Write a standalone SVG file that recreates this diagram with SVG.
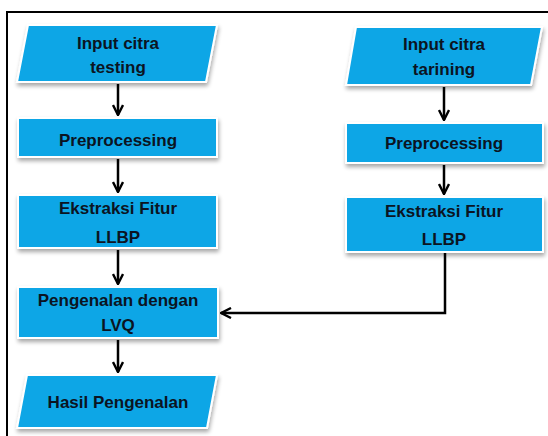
<svg xmlns="http://www.w3.org/2000/svg" width="548" height="436" viewBox="0 0 548 436">
<defs>
<filter id="sh" x="-10%" y="-20%" width="125%" height="150%">
<feGaussianBlur in="SourceAlpha" stdDeviation="2"/>
<feOffset dx="1" dy="3" result="b"/>
<feComponentTransfer><feFuncA type="linear" slope="0.35"/></feComponentTransfer>
<feMerge><feMergeNode/><feMergeNode in="SourceGraphic"/></feMerge>
</filter>
<marker id="ah" viewBox="0 0 12 12" refX="11" refY="6" markerWidth="12" markerHeight="12" markerUnits="userSpaceOnUse" orient="auto">
<path d="M1,1 L11,6 L1,11" fill="none" stroke="#000" stroke-width="2.4" stroke-linejoin="miter"/>
</marker>
</defs>
<style>
.n{fill:#10a6e6;stroke:#ffffff;stroke-width:2;filter:url(#sh)}
.t{font-family:"Liberation Sans",Arial,sans-serif;font-weight:bold;font-size:17px;fill:#0b1422;text-anchor:middle}
.c{fill:none;stroke:#000;stroke-width:2.5}
</style>
<rect width="548" height="436" fill="#ffffff"/>
<path d="M7,436 L7,12 L548,12" fill="none" stroke="#000" stroke-width="2"/>
<g id="input-testing">
<polygon class="n" points="28,25 217,25 206,82 17,82"/>
<text class="t" x="118" y="49">Input citra</text>
<text class="t" x="118" y="73">testing</text>
</g>
<g id="pre-left">
<rect class="n" x="18" y="118" width="199" height="39"/>
<text class="t" x="118" y="146">Preprocessing</text>
</g>
<g id="ekstraksi-left">
<rect class="n" x="18" y="195" width="199" height="53"/>
<text class="t" x="118" y="214">Ekstraksi Fitur</text>
<text class="t" x="118" y="243">LLBP</text>
</g>
<g id="pengenalan">
<rect class="n" x="18" y="287" width="200" height="51"/>
<text class="t" x="118" y="306">Pengenalan dengan</text>
<text class="t" x="118" y="331">LVQ</text>
</g>
<g id="hasil">
<polygon class="n" points="27,375 217,375 207,428 17,428"/>
<text class="t" x="118" y="408">Hasil Pengenalan</text>
</g>
<g id="input-training">
<polygon class="n" points="356,27 542,27 531,85 346,85"/>
<text class="t" x="444" y="50">Input citra</text>
<text class="t" x="444" y="75">tarining</text>
</g>
<g id="pre-right">
<rect class="n" x="346" y="123" width="197" height="40"/>
<text class="t" x="444" y="149">Preprocessing</text>
</g>
<g id="ekstraksi-right">
<rect class="n" x="346" y="197" width="197" height="55"/>
<text class="t" x="444" y="217">Ekstraksi Fitur</text>
<text class="t" x="444" y="245">LLBP</text>
</g>
<g id="connectors">
<line class="c" x1="118" y1="84" x2="118" y2="115" marker-end="url(#ah)"/>
<line class="c" x1="118" y1="159" x2="118" y2="192" marker-end="url(#ah)"/>
<line class="c" x1="118" y1="250" x2="118" y2="284" marker-end="url(#ah)"/>
<line class="c" x1="118" y1="340" x2="118" y2="372" marker-end="url(#ah)"/>
<line class="c" x1="444" y1="87" x2="444" y2="120" marker-end="url(#ah)"/>
<line class="c" x1="444" y1="165" x2="444" y2="194" marker-end="url(#ah)"/>
<polyline class="c" points="445,253 445,313 221,313" marker-end="url(#ah)"/>
</g>
</svg>
